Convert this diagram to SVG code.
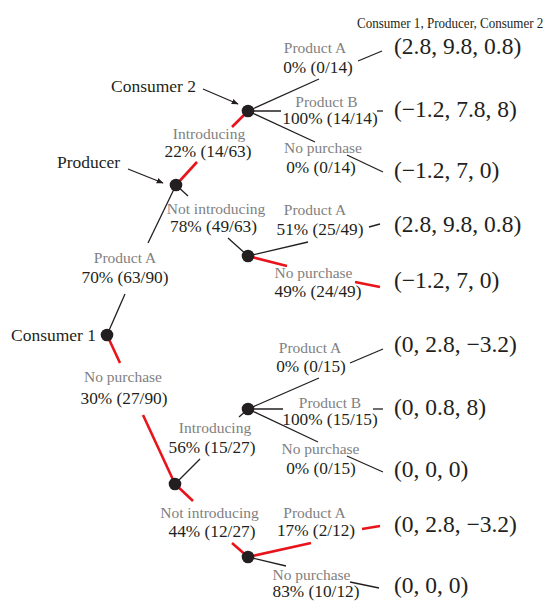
<svg xmlns="http://www.w3.org/2000/svg" width="549" height="602" viewBox="0 0 549 602">
<style>
text{font-family:"Liberation Serif","Times New Roman",serif;fill:#231f20}
.g{fill:#7f7f7f;font-size:15.5px;text-anchor:middle}
.n{font-size:17.3px;text-anchor:middle}
.lbl{font-size:17.5px}
.pay{font-size:23.5px}
.k{stroke:#231f20;stroke-width:1.3;fill:none}
.r{stroke:#e8141c;stroke-width:2.6;fill:none}
.dot{fill:#231f20}
</style>
<defs>
<marker id="ah" viewBox="0 0 10 10" refX="9" refY="5" markerWidth="7" markerHeight="7" orient="auto" markerUnits="userSpaceOnUse">
<path d="M0,1 L10,5 L0,9 z" fill="#231f20"/>
</marker>
</defs>
<g id="connectors">
<line class="k" x1="176" y1="185" x2="148" y2="243"/>
<line class="k" x1="125" y1="294" x2="107" y2="335"/>
<line class="r" x1="107" y1="335" x2="120" y2="363"/>
<line class="r" x1="143" y1="415" x2="175" y2="484"/>
<line class="r" x1="176" y1="185" x2="197" y2="162"/>
<line class="r" x1="232" y1="127" x2="248" y2="111"/>
<line class="k" x1="176" y1="185" x2="188" y2="196"/>
<line class="k" x1="228" y1="238" x2="248" y2="256"/>
<line class="k" x1="175" y1="484" x2="200" y2="459"/>
<line class="k" x1="239" y1="417" x2="248" y2="409"/>
<line class="r" x1="175" y1="484" x2="193" y2="501"/>
<line class="r" x1="232" y1="543" x2="248" y2="557"/>
<line class="k" x1="248" y1="111" x2="319" y2="79"/>
<line class="k" x1="358" y1="61" x2="382" y2="51"/>
<line class="k" x1="248" y1="111" x2="281" y2="111"/>
<line class="k" x1="377" y1="111" x2="383" y2="111"/>
<line class="k" x1="248" y1="111" x2="315" y2="142"/>
<line class="k" x1="347" y1="155" x2="383" y2="172"/>
<line class="k" x1="248" y1="256" x2="308" y2="242"/>
<line class="k" x1="369" y1="227" x2="380" y2="224"/>
<line class="r" x1="248" y1="256" x2="287" y2="266"/>
<line class="r" x1="355" y1="282" x2="380" y2="287"/>
<line class="k" x1="248" y1="409" x2="319" y2="378"/>
<line class="k" x1="350" y1="363" x2="383" y2="349"/>
<line class="k" x1="248" y1="409" x2="283" y2="409"/>
<line class="k" x1="373" y1="409" x2="383" y2="409"/>
<line class="k" x1="248" y1="409" x2="318" y2="442"/>
<line class="k" x1="347" y1="456" x2="383" y2="472"/>
<line class="r" x1="248" y1="557" x2="311" y2="543"/>
<line class="r" x1="362" y1="529" x2="380" y2="526"/>
<line class="k" x1="248" y1="557" x2="286" y2="566"/>
<line class="k" x1="350" y1="582" x2="379" y2="588"/>
<line class="k" x1="203" y1="89" x2="238" y2="104" marker-end="url(#ah)"/>
<line class="k" x1="128" y1="169" x2="163" y2="183" marker-end="url(#ah)"/>
</g>
<g id="consumer1"><circle class="dot" cx="107" cy="335" r="6.3"/><text class="lbl" x="11" y="341">Consumer 1</text></g>
<g id="producer-top"><circle class="dot" cx="176" cy="185" r="6.3"/><text class="lbl" x="57" y="168">Producer</text></g>
<g id="consumer2-top"><circle class="dot" cx="248" cy="111" r="6.3"/><text class="lbl" x="111" y="92">Consumer 2</text></g>
<g id="node-top-notintro"><circle class="dot" cx="248" cy="256" r="6.3"/></g>
<g id="producer-bottom"><circle class="dot" cx="175" cy="484" r="6.3"/></g>
<g id="node-bottom-intro"><circle class="dot" cx="248" cy="409" r="6.3"/></g>
<g id="node-bottom-notintro"><circle class="dot" cx="248" cy="557" r="6.3"/></g>
<g id="branch-labels">
<text class="g" x="125" y="263">Product A</text><text class="n" x="125" y="283">70% (63/90)</text>
<text class="g" x="123" y="382">No purchase</text><text class="n" x="124" y="404">30% (27/90)</text>
<text class="g" x="209" y="139">Introducing</text><text class="n" x="208" y="157">22% (14/63)</text>
<text class="g" x="216" y="214">Not introducing</text><text class="n" x="213.5" y="232">78% (49/63)</text>
<text class="g" x="215" y="433">Introducing</text><text class="n" x="212" y="453">56% (15/27)</text>
<text class="g" x="209.5" y="518">Not introducing</text><text class="n" x="212" y="537">44% (12/27)</text>
<text class="g" x="315" y="53">Product A</text><text class="n" x="318" y="73">0% (0/14)</text>
<text class="g" x="326.5" y="107">Product B</text><text class="n" x="330" y="124">100% (14/14)</text>
<text class="g" x="323" y="153">No purchase</text><text class="n" x="321" y="173">0% (0/14)</text>
<text class="g" x="315" y="215">Product A</text><text class="n" x="320" y="235">51% (25/49)</text>
<text class="g" x="313.5" y="278">No purchase</text><text class="n" x="318" y="297">49% (24/49)</text>
<text class="g" x="310" y="353">Product A</text><text class="n" x="311" y="372">0% (0/15)</text>
<text class="g" x="330" y="408">Product B</text><text class="n" x="330" y="425">100% (15/15)</text>
<text class="g" x="320.5" y="454">No purchase</text><text class="n" x="321" y="474">0% (0/15)</text>
<text class="g" x="314.5" y="518">Product A</text><text class="n" x="316" y="536">17% (2/12)</text>
<text class="g" x="311.5" y="580">No purchase</text><text class="n" x="316" y="597">83% (10/12)</text>
</g>
<g id="payoffs">
<text transform="translate(357,28) scale(0.87,1)" x="0" y="0" font-size="15">Consumer 1, Producer, Consumer 2</text>
<text class="pay" x="394" y="54">(2.8, 9.8, 0.8)</text>
<text class="pay" x="394" y="117">(−1.2, 7.8, 8)</text>
<text class="pay" x="394" y="178">(−1.2, 7, 0)</text>
<text class="pay" x="394" y="232">(2.8, 9.8, 0.8)</text>
<text class="pay" x="394" y="288">(−1.2, 7, 0)</text>
<text class="pay" x="394" y="352">(0, 2.8, −3.2)</text>
<text class="pay" x="394" y="415">(0, 0.8, 8)</text>
<text class="pay" x="394" y="477">(0, 0, 0)</text>
<text class="pay" x="394" y="532">(0, 2.8, −3.2)</text>
<text class="pay" x="394" y="593">(0, 0, 0)</text>
</g>
</svg>
